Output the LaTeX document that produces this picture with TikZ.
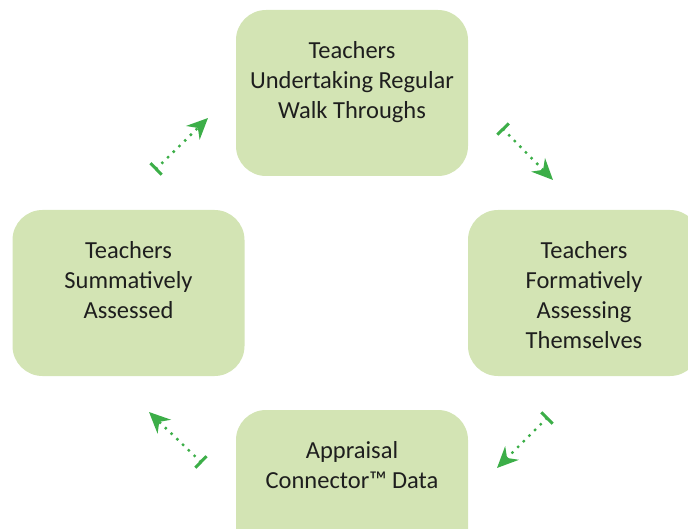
\documentclass[tikz,border=0pt]{standalone}
\usepackage{fontspec}
\setmainfont{Carlito}
\usetikzlibrary{arrows.meta}
\usetikzlibrary{positioning}
\definecolor{boxgreen}{RGB}{211,228,180}
\definecolor{arrowgreen}{RGB}{60,174,72}
\definecolor{textgray}{RGB}{30,30,30}
\tikzset{
  stage/.style={fill=boxgreen, rounded corners=30pt, minimum width=232pt, minimum height=166pt, inner sep=0pt},
  caption/.style={align=center, text=textgray, font=\fontsize{24.5}{30}\selectfont, inner sep=0pt},
  link/.style={arrowgreen, line width=3.4pt, line cap=round, dash pattern=on 0pt off 8pt,
    {Bar[width=16pt,line width=3pt]}-{Stealth[length=21pt,width=19pt]}}
}

\begin{document}
\begin{tikzpicture}[x=1pt,y=1pt]
    \clip (0,0) rectangle (688,528);
    % boxes
    \node[stage] (T) at (352,435) {};
    \node[stage] (L) at (128.5,235) {};
    \node[stage] (R) at (584,235) {};
    \node[stage] (B) at (352,35) {};
    \node[caption, below=31pt of T.north] (Tc) {Teachers\\Undertaking Regular\\Walk Throughs};
    \node[caption, below=31pt of L.north] (Lc) {Teachers\\Summatively\\Assessed};
    \node[caption, below=31pt of R.north] (Rc) {Teachers\\Formatively\\Assessing\\Themselves};
    \node[caption, below=31pt of B.north] (Bc) {Appraisal\\Connector™ Data};
    % arrow ends
    \coordinate (LT0) at (155,358);
    \coordinate (LT1) at (208,410);
    \coordinate (TR0) at (502,400);
    \coordinate (TR1) at (553,348);
    \coordinate (RB0) at (548,111);
    \coordinate (RB1) at (497,60);
    \coordinate (BL0) at (202,65);
    \coordinate (BL1) at (149,116);
    \draw[link] (LT0) -- (LT1);
    \draw[link] (TR0) -- (TR1);
    \draw[link] (RB0) -- (RB1);
    \draw[link] (BL0) -- (BL1);
  \end{tikzpicture}
\end{document}
